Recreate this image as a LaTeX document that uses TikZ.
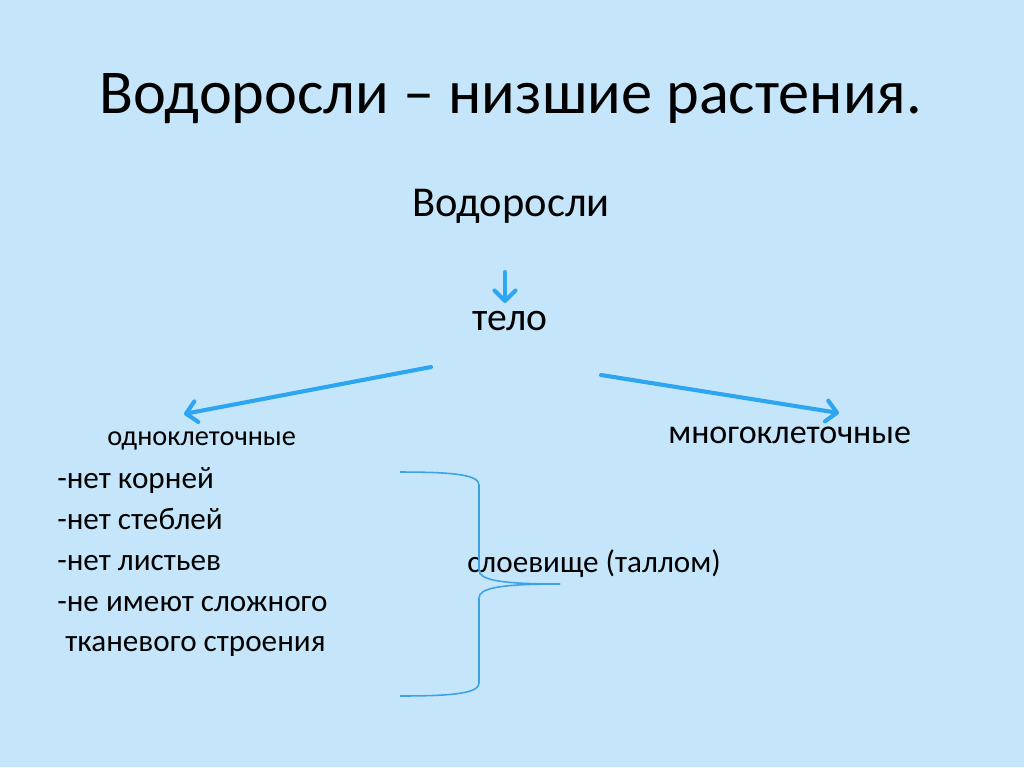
\documentclass[tikz,border=0pt]{standalone}
\usepackage{fontspec}
\setmainfont{Carlito}
\usetikzlibrary{arrows.meta}

\definecolor{slidebg}{RGB}{197,230,250}
\definecolor{arrowblue}{RGB}{44,166,240}
\definecolor{braceblue}{RGB}{60,162,228}

\begin{document}
\begin{tikzpicture}[x=0.024805cm, y=-0.024805cm,
    txt/.style={inner sep=0pt, text=black},
    arr/.style={draw=arrowblue, line width=2.9pt, line cap=round,
      -{Straight Barb[length=2.6mm, width=5.2mm, line width=2.9pt, round]}},
    brace/.style={draw=braceblue, line width=1.1pt}]

  % background of the slide
  \fill[slidebg] (0,0) rectangle (1024,767);
  \useasboundingbox (0,0) rectangle (1024,767);

  % title
  \node[txt, anchor=base] (title) at (511,113)
    {\fontsize{44}{50}\selectfont Водоросли – низшие растения.};

  % tree
  \node[txt, anchor=base] (algae) at (511,216)
    {\fontsize{30}{34}\selectfont Водоросли};
  \node[txt, anchor=base] (body) at (510,330)
    {\fontsize{28}{32}\selectfont тело};
  \node[txt, anchor=base west] (uni) at (107,445)
    {\fontsize{20}{24}\selectfont одноклеточные};
  \node[txt, anchor=base west] (multi) at (668,443)
    {\fontsize{24}{28}\selectfont многоклеточные};

  \coordinate (a0) at (505,272);
  \coordinate (a1) at (505,303);
  \coordinate (b0) at (431,367);
  \coordinate (b1) at (184,414);
  \coordinate (c0) at (601,375);
  \coordinate (c1) at (839,413);

  \draw[arr] (a0) -- (a1);
  \draw[arr] (b0) -- (b1);
  \draw[arr] (c0) -- (c1);

  % list of features
  \node[txt, anchor=base west] (l1) at (57,488)
    {\fontsize{22}{26}\selectfont -нет корней};
  \node[txt, anchor=base west] (l2) at (57,529)
    {\fontsize{22}{26}\selectfont -нет стеблей};
  \node[txt, anchor=base west] (l3) at (57,570)
    {\fontsize{22}{26}\selectfont -нет листьев};
  \node[txt, anchor=base west] (l4) at (57,611)
    {\fontsize{22}{26}\selectfont -не имеют сложного};
  \node[txt, anchor=base west] (l5) at (65,651)
    {\fontsize{22}{26}\selectfont тканевого строения};

  \node[txt, anchor=base west] (thallus) at (467,572)
    {\fontsize{22}{26}\selectfont слоевище (таллом)};

  % brace
  \coordinate (tip) at (560,584);
  \draw[brace] (400,472) .. controls (455,472) and (479,475) .. (479,485)
    -- (479,570) .. controls (479,580) and (500,584) .. (tip);
  \draw[brace] (tip) .. controls (500,584) and (479,588) .. (479,598)
    -- (479,683) .. controls (479,693) and (455,696) .. (400,696);

\end{tikzpicture}
\end{document}
